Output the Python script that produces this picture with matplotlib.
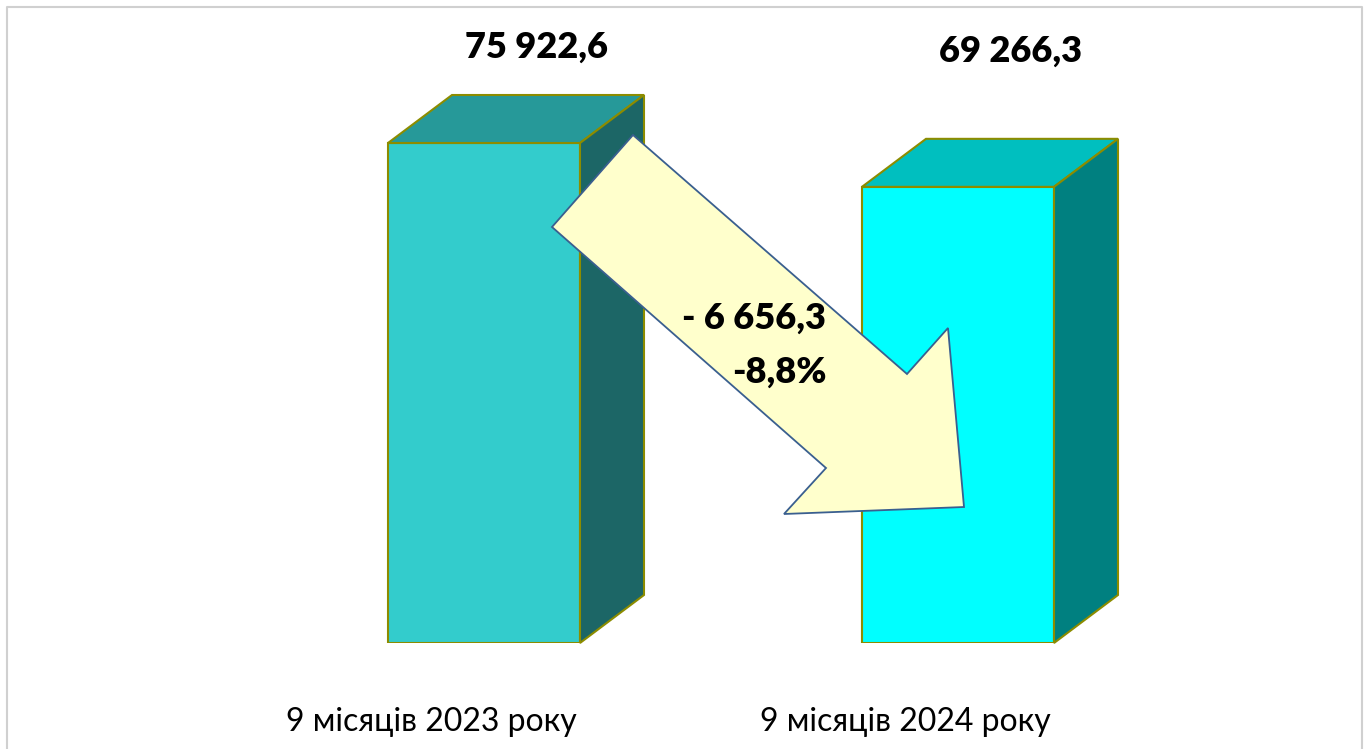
import matplotlib.pyplot as plt
from matplotlib.patches import Polygon, Rectangle

# values (thousand) for two periods
categories = ['9 місяців 2023 року', '9 місяців 2024 року']
values = [75922.6, 69266.3]
value_labels = ['75 922,6', '69 266,3']
change_label = '- 6 656,3'
pct_label = '-8,8%'

front_colors = ['#33CCCC', '#00FFFF']
top_colors = ['#269999', '#00BFBF']
side_colors = ['#1C6666', '#008080']
edge = '#8C8C00'

plt.rcParams['font.family'] = ['Lato', 'DejaVu Sans']

W, H = 1369, 749
fig = plt.figure(figsize=(W / 100, H / 100), dpi=100)

# main axes: x in category units, y in value units (0 at pixel 643)
px_per_val = 500 / 75922.6
ymax = 90000
ax_top = 643 - ymax * px_per_val
ax = fig.add_axes([247 / W, (H - 643) / H, 948 / W, (643 - ax_top) / H])
ax.set_xlim(-0.5, 1.5)
ax.set_ylim(0, ymax)
ax.axis('off')

w = 192 / 474
dx = 64 / 474
dy = 48 / px_per_val

for i, v in enumerate(values):
    x0, x1 = i - w / 2, i + w / 2
    ax.add_patch(Rectangle((x0, 0), w, v, fc=front_colors[i], ec=edge, lw=1.5, zorder=2))
    ax.add_patch(Polygon([(x0, v), (x0 + dx, v + dy), (x1 + dx, v + dy), (x1, v)],
                         fc=top_colors[i], ec=edge, lw=1.5, zorder=2, clip_on=False))
    ax.add_patch(Polygon([(x1, 0), (x1, v), (x1 + dx, v + dy), (x1 + dx, dy)],
                         fc=side_colors[i], ec=edge, lw=1.5, zorder=2, clip_on=False))
    ax.text(i + 0.11, v + dy + 48 / px_per_val + i * 40 / px_per_val, value_labels[i],
            ha='center', va='center', fontsize=26, fontweight='heavy', clip_on=False)
    ax.text(i - 0.11, -79 / px_per_val, categories[i], ha='center', va='center',
            fontsize=23, clip_on=False)

# overlay in pixel coords for the arrow and frame
ov = fig.add_axes([0, 0, 1, 1], zorder=5)
ov.set_xlim(0, W)
ov.set_ylim(H, 0)
ov.axis('off')
ov.patch.set_alpha(0)

arrow = [(633, 135), (907, 374), (948, 328), (964, 507), (784, 514), (826, 468), (552, 227)]
ov.add_patch(Polygon(arrow, fc='#FFFFCC', ec='#3A5F8F', lw=1.3, zorder=3))
ov.text(754, 318, change_label, ha='center', va='center', fontsize=26, fontweight='heavy', zorder=4)
ov.text(779, 372, pct_label, ha='center', va='center', fontsize=26, fontweight='heavy', zorder=4)

ov.plot([7, 7, 1362, 1362], [H + 5, 7, 7, H + 5], color='#D0D0D0', lw=1.5, clip_on=False)

fig.savefig('out.png', dpi=100)
